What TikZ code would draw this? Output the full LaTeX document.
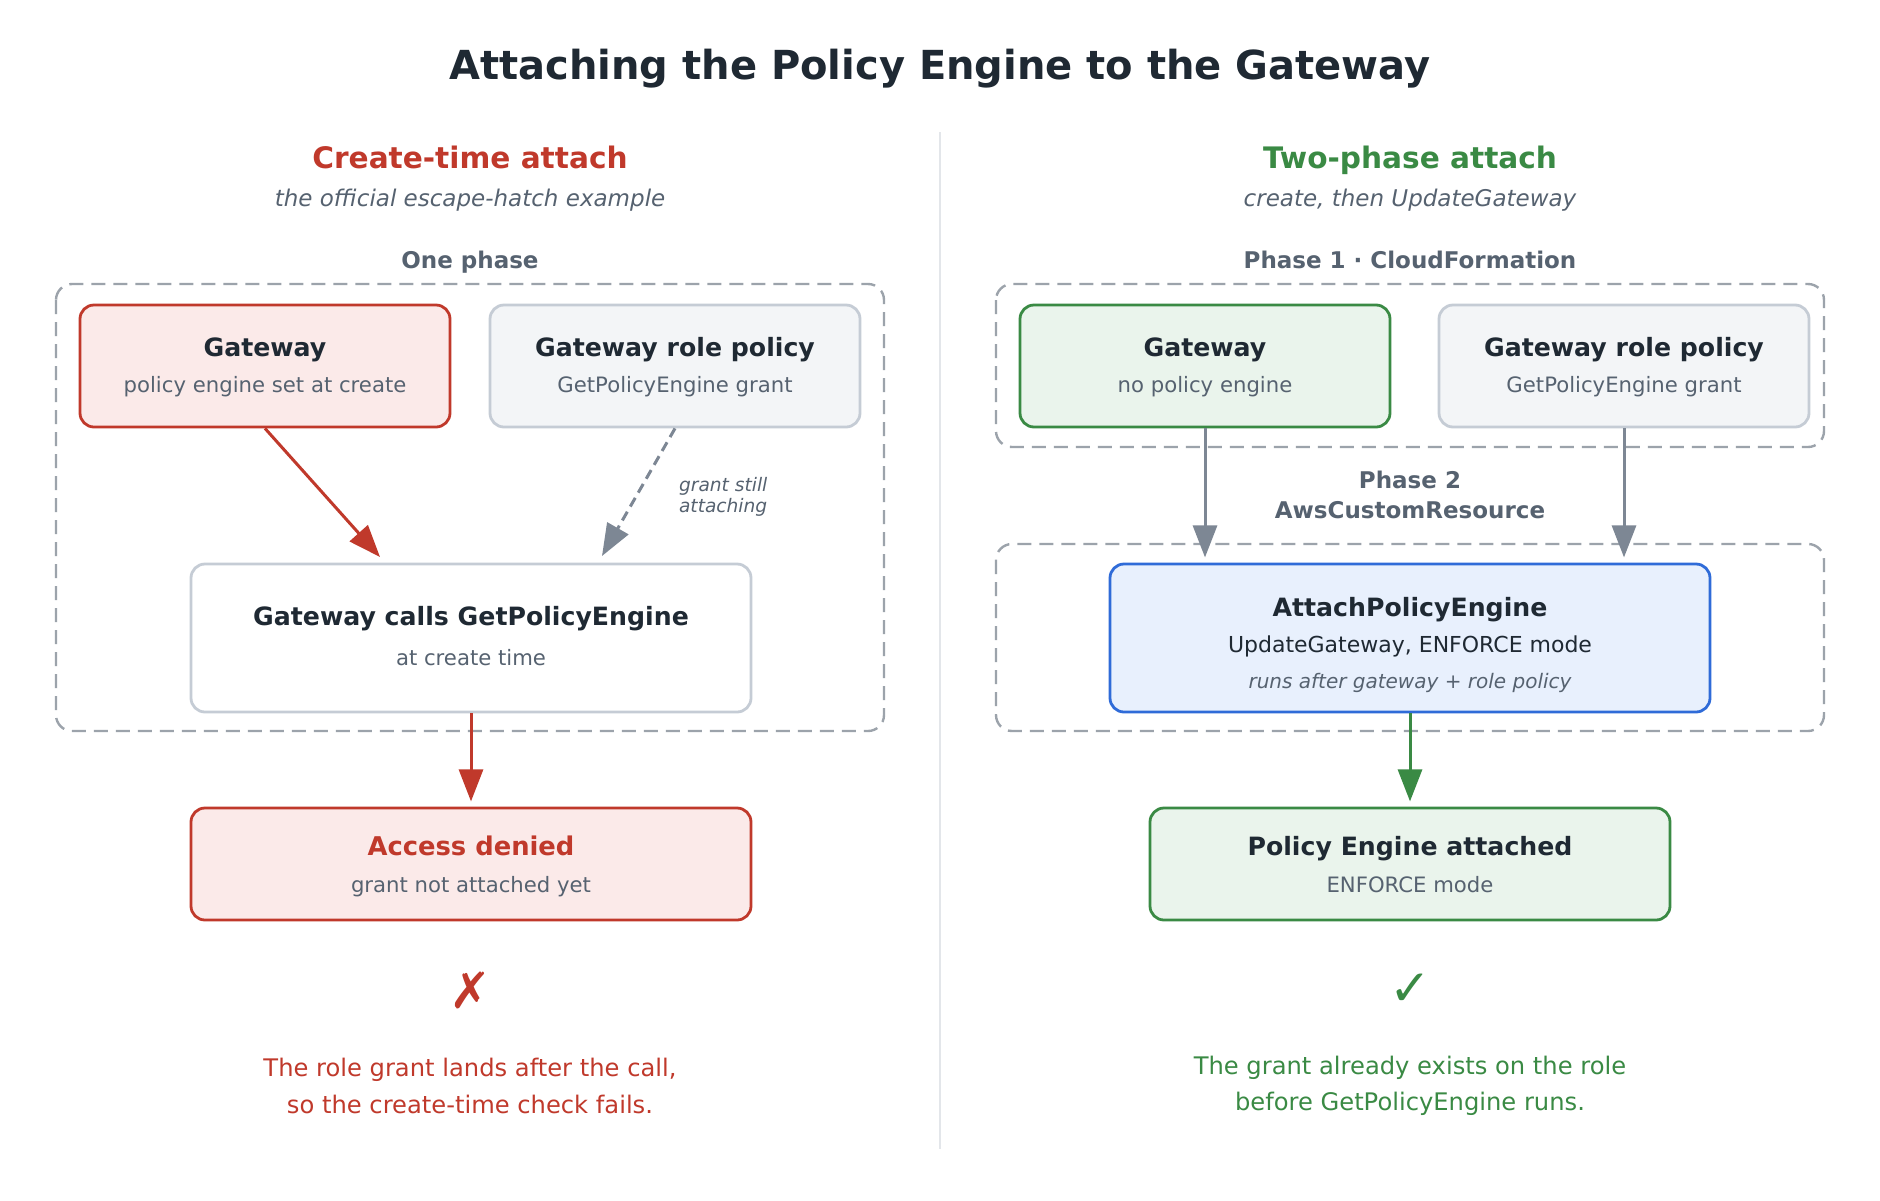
\documentclass[tikz,border=0pt]{standalone}
\usepackage{fontspec}
\setmainfont{DejaVu Sans}
\usepackage{xcolor}
\usetikzlibrary{arrows.meta,calc,positioning}
\definecolor{crimson}{HTML}{C0392B}
\definecolor{blush}{HTML}{FBEAE9}
\definecolor{leaf}{HTML}{3A8A44}
\definecolor{mint}{HTML}{EAF4EC}
\definecolor{azure}{HTML}{2F6BD8}
\definecolor{sky}{HTML}{E8F0FD}
\definecolor{steel}{HTML}{C5CCD5}
\definecolor{mist}{HTML}{F3F5F7}
\definecolor{dashgray}{HTML}{9CA3AB}
\definecolor{arrowgray}{HTML}{7D8794}
\definecolor{ink}{HTML}{1F2933}
\definecolor{muted}{HTML}{566270}
\definecolor{rule}{HTML}{E3E6EA}
\newcommand{\fs}[1]{\fontsize{#1}{#1}\selectfont}
\tikzset{
  box/.style={rectangle,rounded corners=7pt,line width=1.4pt,inner sep=0pt,minimum width=185pt,minimum height=61pt},
  badbox/.style={box,draw=crimson,fill=blush},
  goodbox/.style={box,draw=leaf,fill=mint},
  plainbox/.style={box,draw=steel,fill=mist},
  grp/.style={draw=dashgray,line width=1.2pt,dash pattern=on 7pt off 4pt,rounded corners=8pt},
  line/.style={text height=.76em,text depth=0pt},
  hd/.style={line,font=\bfseries\fs{12.6},text=ink},
  sub/.style={line,font=\fs{10.6},text=muted},
  flow/.style={line width=1.5pt,-{Triangle[length=16pt,width=12pt]}},
}
\begin{document}
\begin{tikzpicture}[x=0.5pt,y=-0.5pt,
  head/.style={line,font=\bfseries\fs{14.8}},
  tag/.style={line,font=\itshape\fs{11.5},text=muted},
  phase/.style={font=\bfseries\fs{11.5},text=muted},
  note/.style={font=\fs{12.1},align=center}]
  \useasboundingbox[fill=white] (0,0) rectangle (1880,1200);
  \node[line,font=\bfseries\fs{20},text=ink] (title) at (940,72) {Attaching the Policy Engine to the Gateway};
  \draw[rule,line width=1.2pt] (940,132) -- (940,1149);

  % left: create-time attach
  \node[head,text=crimson] (headA) at (470,161) {Create-time attach};
  \node[tag] (tagA) at (470,199) {the official escape-hatch example};
  \node[phase,line] (phA) at (470,261) {One phase};
  \draw[grp] (56,284) rectangle (884,731);
  \node[badbox] (gwA) at (265,366) {};
  \node[hd] (gwAt) at (265,349) {Gateway};
  \node[sub] (gwAs) at (265,385) {policy engine set at create};
  \node[plainbox] (roleA) at (675,366) {};
  \node[hd] (roleAt) at (675,349) {Gateway role policy};
  \node[sub] (roleAs) at (675,385) {GetPolicyEngine grant};
  \node[box,draw=steel,fill=white,minimum width=280pt,minimum height=74pt] (call) at (471,638) {};
  \node[hd] (callt) at (471,618) {Gateway calls GetPolicyEngine};
  \node[sub] (calls) at (471,658) {at create time};
  \node[badbox,minimum width=280pt,minimum height=56pt] (deny) at (471,864) {};
  \node[line,font=\bfseries\fs{12.9},text=crimson] (denyt) at (471,848) {Access denied};
  \node[sub] (denys) at (471,885) {grant not attached yet};
  \coordinate (callL) at (380,557);
  \coordinate (callR) at (602,556);
  \draw[flow,crimson] (gwA.south) -- (callL);
  \draw[flow,arrowgray,dash pattern=on 5pt off 3pt] (roleA.south) -- (callR);
  \node[font=\itshape\fs{9.3},text=muted,align=left,anchor=west] (still) at (672,497) {grant still\\[1.5pt]attaching};
  \draw[flow,crimson] (call.south) -- ++(0,88) coordinate (denyIn);
  \node[font=\fs{25},text=crimson] (cross) at (470,990) {✗};
  \node[note,text=crimson] (noteA) at (470,1086) {The role grant lands after the call,\\[6pt]so the create-time check fails.};

  % right: two-phase attach
  \node[head,text=leaf] (headB) at (1410,161) {Two-phase attach};
  \node[tag] (tagB) at (1410,199) {create, then UpdateGateway};
  \node[phase,line] (phB) at (1410,261) {Phase 1 · CloudFormation};
  \draw[grp] (996,284) rectangle (1824,447);
  \draw[grp] (996,544) rectangle (1824,731);
  \node[goodbox] (gwB) at (1205,366) {};
  \node[hd] (gwBt) at (1205,349) {Gateway};
  \node[sub] (gwBs) at (1205,385) {no policy engine};
  \node[plainbox] (roleB) at (1624,366) {};
  \node[hd] (roleBt) at (1624,349) {Gateway role policy};
  \node[sub] (roleBs) at (1624,385) {GetPolicyEngine grant};
  \node[phase,align=center] (ph2) at (1410,495) {Phase 2\\[3.5pt]AwsCustomResource};
  \node[box,draw=azure,fill=sky,minimum width=300pt,minimum height=74pt] (attach) at (1410,638) {};
  \node[hd] (attacht) at (1410,609) {AttachPolicyEngine};
  \node[line,font=\fs{11},text=ink] (attachs) at (1410,645) {UpdateGateway, ENFORCE mode};
  \node[line,font=\itshape\fs{10},text=muted] (attachn) at (1410,681) {runs after gateway + role policy};
  \node[goodbox,minimum width=260pt,minimum height=56pt] (done) at (1410,864) {};
  \node[hd] (donet) at (1410,848) {Policy Engine attached};
  \node[sub] (dones) at (1410,885) {ENFORCE mode};
  \draw[flow,arrowgray] (gwB.south) -- ++(0,129);
  \draw[flow,arrowgray] (roleB.south) -- ++(0,129);
  \draw[flow,leaf] (attach.south) -- ++(0,88);
  \node[font=\fs{25},text=leaf] (tick) at (1410,990) {✓};
  \node[note,text=leaf] (noteB) at (1410,1086) {The grant already exists on the role\\[6pt]before GetPolicyEngine runs.};
\end{tikzpicture}
\end{document}
